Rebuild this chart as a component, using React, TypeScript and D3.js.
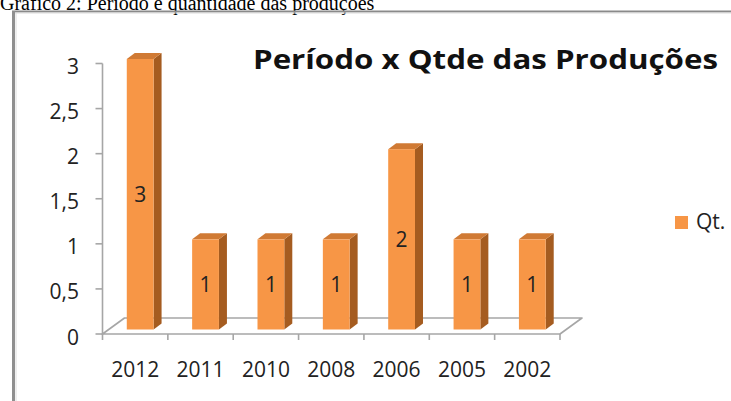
import React from "react";
import * as d3 from "d3";

const years = ["2012", "2011", "2010", "2008", "2006", "2005", "2002"];
const qtd = [3, 1, 1, 1, 2, 1, 1];
const yTicks = [0, 0.5, 1, 1.5, 2, 2.5, 3];
const caption = "Gráfico 2: Período e quantidade das produções";
const title = "Período x Qtde das Produções";
const seriesName = "Qt.";

const W = 731;
const H = 401;
const FONT = "'Open Sans', 'DejaVu Sans', sans-serif";

export default function App() {
  const x = d3.scaleBand<string>().domain(years).range([102.5, 560]).padding(0);
  const y = d3.scaleLinear().domain([0, 3]).range([334, 63.5]);

  const floorDx = 22;
  const floorDy = -16;
  const barShiftX = 5;
  const barShiftY = -4.5;
  const sideDx = 8;
  const sideDy = -6;
  const barW = x.bandwidth() * 0.41;

  const front = "#F79646";
  const side = "#A55C20";
  const top = "#D07A34";
  const axisCol = "#A6A6A6";

  const y0 = y(0);
  const xs = x.range();

  return (
    <svg
      width={W}
      height={H}
      style={{ position: "absolute", left: 0, top: 0, background: "#fff" }}
    >
      <rect x={0} y={0} width={W} height={H} fill="#fff" />
      {/* caption */}
      <text
        x={0}
        y={10}
        fontFamily="'Liberation Serif', 'Times New Roman', serif"
        fontSize={20}
        fill="#000"
      >
        {caption}
      </text>
      {/* frame */}
      <line x1={12} y1={11.5} x2={W} y2={11.5} stroke="#8a8a8a" strokeWidth={2} />
      <line x1={14} y1={13} x2={W} y2={13} stroke="#dcdcdc" strokeWidth={1} />
      <line x1={13.5} y1={11} x2={13.5} y2={H} stroke="#8f8f8f" strokeWidth={3} />
      <line x1={16} y1={13} x2={16} y2={H} stroke="#dedede" strokeWidth={1} />

      {/* title */}
      <text
        x={253}
        y={69}
        fontFamily={FONT}
        fontWeight="bold"
        fontSize={26}
        fill="#111"
        textLength={465}
        lengthAdjust="spacingAndGlyphs"
      >
        {title}
      </text>

      {/* floor */}
      <polygon
        points={[
          [xs[0], y0],
          [xs[1], y0],
          [xs[1] + floorDx, y0 + floorDy],
          [xs[0] + floorDx, y0 + floorDy],
        ]
          .map((p) => p.join(","))
          .join(" ")}
        fill="#fff"
        stroke={axisCol}
        strokeWidth={1.6}
        strokeLinejoin="round"
      />

      {/* y axis */}
      <line x1={xs[0]} y1={y(3)} x2={xs[0]} y2={y0 + 1} stroke={axisCol} strokeWidth={1.6} />
      {yTicks.map((t) => (
        <g key={t}>
          <line x1={xs[0] - 7} x2={xs[0]} y1={y(t)} y2={y(t)} stroke={axisCol} strokeWidth={1.6} />
          <text
            x={79}
            y={y(t) + 2.5}
            textAnchor="end"
            dominantBaseline="central"
            fontFamily={FONT}
            fontSize={21}
            fill="#222"
          >
            {String(t).replace(".", ",")}
          </text>
        </g>
      ))}

      {/* x ticks */}
      {[...years.map((d) => x(d) as number), xs[1]].map((v, i) => (
        <line key={i} x1={v} x2={v} y1={y0} y2={y0 + 6} stroke={axisCol} strokeWidth={1.6} />
      ))}
      {years.map((d) => (
        <text
          key={d}
          x={(x(d) as number) + x.bandwidth() / 2}
          y={377}
          textAnchor="middle"
          fontFamily={FONT}
          fontSize={21}
          fill="#222"
        >
          {d}
        </text>
      ))}

      {/* bars */}
      {years.map((d, i) => {
        const v = qtd[i];
        const cx = (x(d) as number) + x.bandwidth() / 2 + barShiftX;
        const x0 = cx - barW / 2;
        const x1 = cx + barW / 2;
        const yb = y0 + barShiftY;
        const yt = y(v) + barShiftY;
        const sidePts = [
          [x1, yt],
          [x1 + sideDx, yt + sideDy],
          [x1 + sideDx, yb + sideDy],
          [x1, yb],
        ];
        const topPts = [
          [x0, yt],
          [x0 + sideDx, yt + sideDy],
          [x1 + sideDx, yt + sideDy],
          [x1, yt],
        ];
        return (
          <g key={d}>
            <polygon points={sidePts.map((p) => p.join(",")).join(" ")} fill={side} />
            <polygon points={topPts.map((p) => p.join(",")).join(" ")} fill={top} />
            <rect x={x0} y={yt} width={barW} height={yb - yt} fill={front} />
            <text
              x={cx}
              y={(yt + yb) / 2}
              textAnchor="middle"
              dominantBaseline="central"
              fontFamily={FONT}
              fontSize={21}
              fill="#222"
            >
              {v}
            </text>
          </g>
        );
      })}

      {/* legend */}
      <rect x={675} y={216} width={13} height={13} fill={front} />
      <text x={696} y={229} fontFamily={FONT} fontSize={21} fill="#222">
        {seriesName}
      </text>
    </svg>
  );
}
